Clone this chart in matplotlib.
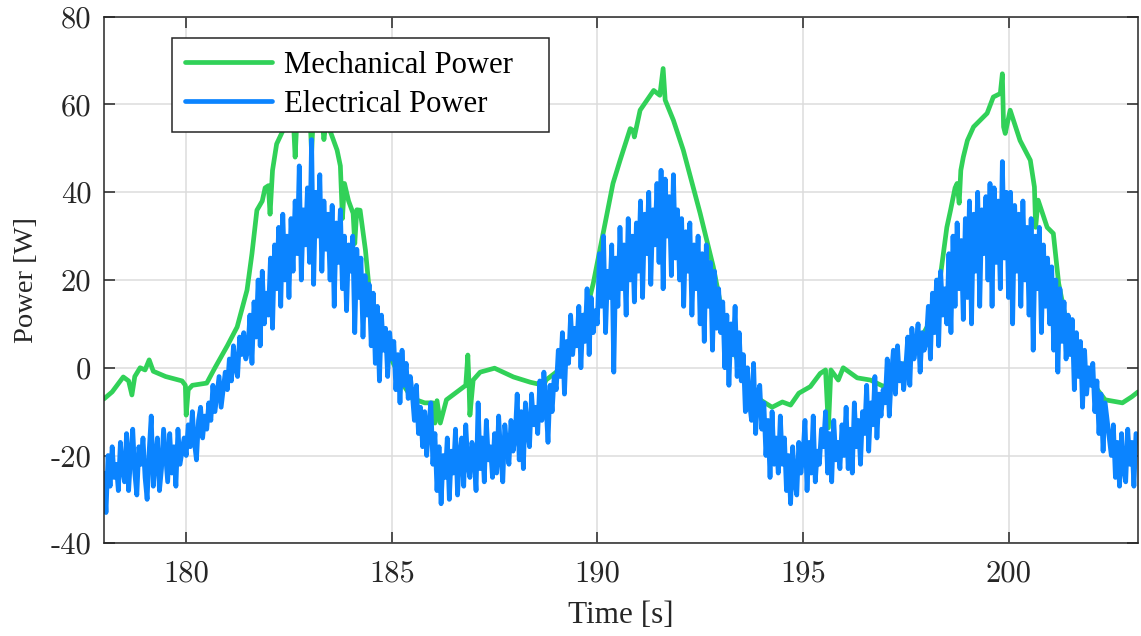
from matplotlib import pyplot as plt
import numpy as np

t_mech = [178.0, 178.2, 178.47, 178.6, 178.68, 178.75, 178.88, 179.0, 179.1, 179.2,
          179.5, 179.9, 179.98, 180.0, 180.05, 180.15, 180.5, 180.7, 181.0, 181.24,
          181.48, 181.6, 181.72, 181.85, 181.92, 182.0, 182.04, 182.1, 182.2, 182.4,
          182.6, 182.65, 182.7, 183.0, 183.05, 183.1, 183.3, 183.35, 183.4, 183.5,
          183.67, 183.75, 183.8, 183.85, 183.95, 184.06, 184.1, 184.15, 184.23, 184.36,
          184.47, 184.76, 185.08, 185.2, 185.5, 185.8, 186.0, 186.05, 186.1, 186.18,
          186.33, 186.66, 186.8, 186.85, 186.88, 186.9, 186.98, 187.15, 187.5, 187.96,
          188.37, 188.7, 188.75, 189.0, 189.1, 189.58, 189.9, 190.14, 190.38, 190.55,
          190.8, 190.87, 190.9, 191.04, 191.37, 191.52, 191.6, 191.65, 191.85, 192.09,
          192.33, 192.5, 192.82, 193.07, 193.3, 193.52, 193.84, 194.25, 194.5, 194.7,
          194.9, 195.18, 195.42, 195.55, 195.62, 195.68, 195.86, 195.98, 196.32, 196.64,
          196.95, 197.2, 197.37, 197.7, 198.02, 198.34, 198.5, 198.59, 198.7, 198.75,
          198.8, 198.84, 198.9, 199.0, 199.15, 199.48, 199.63, 199.8, 199.85, 199.88,
          199.92, 200.04, 200.28, 200.53, 200.63, 200.66, 200.72, 200.94, 201.09, 201.22,
          201.38, 201.63, 202.04, 202.35, 202.77, 203.0, 203.15]
p_mech = [-7.1, -5.5, -2.1, -3.0, -6.2, -2.0, 0.0, -0.5, 1.8, -0.8,
          -2.0, -3.0, -4.0, -10.8, -5.0, -4.0, -3.5, 0.0, 5.0, 9.3,
          17.7, 26.0, 35.9, 38.0, 41.0, 41.5, 35.0, 45.0, 51.0, 55.0,
          58.0, 48.0, 58.0, 60.0, 49.0, 59.0, 57.0, 52.0, 56.0, 54.0,
          49.6, 46.0, 34.0, 42.0, 38.0, 35.2, 28.3, 36.0, 35.9, 26.8,
          16.0, 6.3, 0.2, -2.8, -7.0, -8.0, -8.0, -12.6, -7.5, -12.6,
          -7.3, -5.0, -4.0, 2.9, -4.0, -10.8, -2.8, -1.0, -0.1, -2.1,
          -3.3, -4.0, -2.8, -1.0, 0.2, 7.0, 19.2, 30.6, 42.0, 47.2,
          54.5, 54.1, 52.6, 58.7, 63.2, 62.1, 68.2, 61.0, 56.4, 49.6,
          41.2, 35.2, 23.0, 10.9, 4.0, -0.5, -6.6, -9.0, -7.8, -8.5,
          -5.8, -4.3, -1.3, -0.5, -13.7, -0.5, -2.8, 0.0, -2.3, -2.8,
          -4.2, -3.5, -0.5, 4.0, 9.3, 20.7, 32.0, 35.9, 41.0, 42.0,
          37.5, 45.0, 48.0, 51.8, 54.9, 58.0, 61.7, 62.5, 67.0, 54.9,
          53.4, 58.7, 51.8, 47.3, 41.2, 32.0, 38.2, 32.0, 30.6, 19.2,
          11.6, 2.5, -3.5, -7.3, -8.0, -6.6, -5.5]

# electrical power, sampled every 0.05 s from 178.0 s (10 values per row = 0.5 s)
t0_elec = 178.0
dt_elec = 0.05
p_elec = [-24, -33, -20, -27, -18, -25, -22, -28, -17, -23,
          -26, -15, -28, -20, -14, -24, -29, -18, -22, -16,
          -25, -30, -19, -11, -27, -21, -16, -28, -23, -14,
          -20, -26, -15, -24, -18, -27, -14, -22, -19, -16,
          -20, -13, -18, -10, -17, -21, -12, -9, -16, -11,
          -14, -8, -12, -4, -10, -6, -2, -9, -5, -1,
          -5, 2, -3, 5, 0, -2, 7, 3, 8, 2,
          4, 12, 1, 15, 7, 20, 5, 22, 10, 17,
          12, 25, 9, 28, 18, 32, 14, 35, 20, 30,
          16, 34, 22, 38, 26, 46, 20, 36, 28, 41,
          24, 52, 19, 40, 30, 44, 22, 38, 27, 35,
          20, 37, 14, 33, 24, 36, 18, 30, 13, 28,
          22, 30, 8, 27, 16, 25, 7, 21, 12, 19,
          5, 17, 1, 14, -3, 12, 4, 9, -2, 8,
          2, 6, -5, 3, -8, 4, -4, 1, -7, -2,
          -6, -12, -4, -15, -9, -18, -10, -20, -13, -8,
          -22, -15, -28, -18, -31, -20, -25, -16, -30, -19,
          -24, -14, -29, -20, -16, -27, -13, -22, -25, -17,
          -20, -28, -8, -23, -16, -26, -12, -21, -18, -25,
          -15, -24, -11, -20, -26, -13, -18, -22, -12, -19,
          -16, -6, -21, -10, -23, -8, -14, -18, -6, -13,
          -9, -15, -3, -12, -1, -8, -17, -4, -10, -2,
          -5, 4, -2, 8, -6, 6, 1, 12, 3, 9,
          5, 14, 0, 12, 6, 18, 3, 16, 8, 13,
          10, 26, 14, 30, 8, 22, 16, 28, -1, 25,
          14, 32, 18, 28, 12, 34, 20, 30, 15, 33,
          22, 38, 16, 35, 26, 40, 19, 36, 28, 42,
          24, 45, 18, 43, 30, 39, 21, 44, 25, 36,
          20, 34, 14, 31, 22, 33, 12, 28, 18, 30,
          10, 26, 6, 28, 14, 24, 4, 22, 9, 18,
          8, 15, 0, 12, -4, 10, 3, 14, -2, 8,
          -3, 3, -10, 0, -8, -12, 1, -15, -6, -4,
          -14, -8, -20, -12, -25, -10, -22, -16, -24, -11,
          -22, -16, -28, -20, -31, -18, -26, -29, -17, -24,
          -20, -12, -28, -17, -24, -11, -26, -19, -22, -14,
          -18, -10, -24, -15, -26, -12, -21, -17, -23, -13,
          -20, -9, -23, -14, -24, -8, -18, -12, -22, -10,
          -15, -4, -19, -8, -13, -2, -16, -6, -11, -5,
          -8, 2, -11, -2, 4, -6, 5, -3, 1, -5,
          0, 7, -4, 9, 2, 5, 10, -1, 8, 4,
          6, 14, 2, 17, 8, 20, 5, 22, 12, 18,
          10, 26, 8, 30, 14, 33, 18, 29, 11, 34,
          16, 38, 10, 35, 22, 40, 14, 36, 26, 39,
          20, 42, 14, 41, 24, 38, 18, 47, 25, 40,
          16, 40, 10, 37, 22, 35, 14, 38, 20, 32,
          12, 34, 4, 30, 18, 32, 8, 28, 14, 25,
          10, 23, 4, 20, -1, 18, 6, 15, 2, 12,
          3, 11, -5, 8, -2, 6, -9, 4, -6, 0,
          -4, 1, -10, -3, -15, -6, -19, -8, -12, -16,
          -20, -13, -25, -17, -27, -15, -23, -26, -14, -22,
          -17, -27, -15]
t_elec = t0_elec + dt_elec * np.arange(len(p_elec))

plt.rcParams['axes.unicode_minus'] = False

fig = plt.figure(figsize=(11.41, 6.36), dpi=100)
ax = fig.add_axes([0.0911, 0.1458, 0.9063, 0.8279])

ax.plot(t_mech, p_mech, color='#31d158', lw=3.4, label='Mechanical Power   ',
        solid_joinstyle='round', solid_capstyle='round')
ax.plot(t_elec, p_elec, color='#0b84ff', lw=3.4, label='Electrical Power',
        solid_joinstyle='round', solid_capstyle='round')

ax.set_xlim(178.0, 203.15)
ax.set_ylim(-40, 80)
ax.set_xticks([180, 185, 190, 195, 200])
ax.set_yticks([-40, -20, 0, 20, 40, 60, 80])
ax.grid(True, color='#dcdcdc', lw=1.1)
ax.set_axisbelow(True)
ax.tick_params(direction='in', length=8, width=1.1, top=True, right=True,
               colors='#262626', labelsize=22)
ax.tick_params(axis='x', pad=12)
ax.tick_params(axis='y', pad=9)
for lab in ax.get_xticklabels() + ax.get_yticklabels():
    lab.set_fontfamily('cmr10')
for s in ax.spines.values():
    s.set_color('#262626')
    s.set_linewidth(1.1)

ax.set_xlabel('Time [s]', fontsize=22.5, family='Liberation Serif', color='#262626', labelpad=10)
ax.set_ylabel('Power [W]', fontsize=20.5, family='Liberation Serif', color='#262626', labelpad=8)

leg = ax.legend(loc='upper left', bbox_to_anchor=(0.0658, 0.9596), borderaxespad=0,
                prop={'family': 'Liberation Serif', 'size': 22.1}, fancybox=False,
                framealpha=1, edgecolor='#262626', handlelength=2.84, handletextpad=0.39,
                labelspacing=0.33, borderpad=0.42)
leg.get_frame().set_linewidth(1.1)

fig.savefig('out.png', dpi=100)
